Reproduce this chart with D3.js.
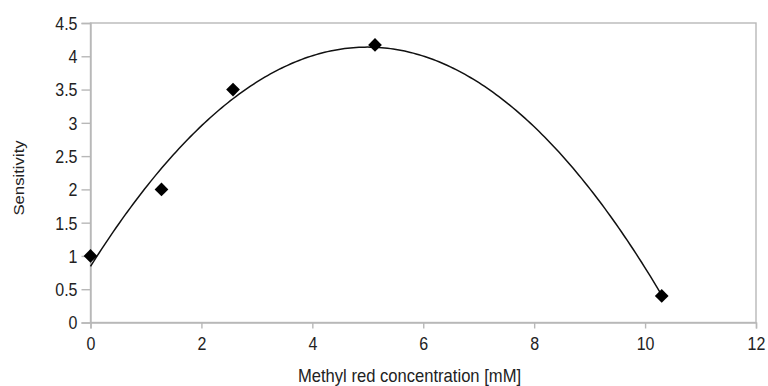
<!DOCTYPE html>
<html><head><meta charset="utf-8">
<script src="https://cdn.jsdelivr.net/npm/d3@7"></script>
<style>body{margin:0;background:#fff}svg{display:block}text{font-family:"Liberation Sans",Arial,sans-serif;fill:#222}</style>
</head><body><svg id="c" width="768" height="386"></svg>
<script>
const concentration = [0, 1.28, 2.57, 5.13, 10.3];
const sensitivity = [1, 2, 3.5, 4.17, 0.4];
const xTicks = [0, 2, 4, 6, 8, 10, 12];
const yTicks = [0, 0.5, 1, 1.5, 2, 2.5, 3, 3.5, 4, 4.5];

const svg = d3.select("#c");
const W = 768, H = 386;
const m = {l: 90.5, r: 12, t: 23, b: 63.5};
const x = d3.scaleLinear().domain([0, 12]).range([m.l, W - m.r]);
const y = d3.scaleLinear().domain([0, 4.5]).range([H - m.b, m.t]);
const grey = "#b8b8b8";
const SY = 1.1; // vertical stretch of the text

// frame
svg.append("rect").attr("x", x(0)).attr("y", y(4.5)).attr("width", x(12) - x(0)).attr("height", y(0) - y(4.5))
  .attr("fill", "none").attr("stroke", grey).attr("stroke-width", 1.4);

const ya = svg.append("g").attr("transform", `translate(${x(0)},0)`)
  .call(d3.axisLeft(y).tickValues(yTicks).tickFormat(d => String(d)).tickSize(9));
const xa = svg.append("g").attr("transform", `translate(0,${y(0)})`)
  .call(d3.axisBottom(x).tickValues(xTicks).tickFormat(d => String(d)).tickSize(6));
[ya, xa].forEach(a => {
  a.select(".domain").attr("stroke", grey).attr("stroke-width", 1.4);
  a.selectAll(".tick line").attr("stroke", grey).attr("stroke-width", 1.4);
  a.selectAll(".tick text").attr("font-size", 16).attr("fill", "#222")
    .attr("font-family", "Liberation Sans, Arial, sans-serif");
});
ya.selectAll(".tick text").attr("x", -13).attr("dy", "0.36em").attr("transform", `scale(1,${SY})`);
xa.selectAll(".tick text").attr("y", 27.5 / SY).attr("dy", 0).attr("transform", `scale(1,${SY})`);

// quadratic least squares trendline from data
function polyfit2(xs, ys) {
  const n = xs.length;
  let S = [0,0,0,0,0], T = [0,0,0];
  for (let i = 0; i < n; i++) {
    for (let k = 0; k < 5; k++) S[k] += Math.pow(xs[i], k);
    for (let k = 0; k < 3; k++) T[k] += ys[i] * Math.pow(xs[i], k);
  }
  const A = [[S[0],S[1],S[2],T[0]],[S[1],S[2],S[3],T[1]],[S[2],S[3],S[4],T[2]]];
  for (let i = 0; i < 3; i++) {
    for (let j = i + 1; j < 3; j++) {
      const f = A[j][i] / A[i][i];
      for (let k = i; k < 4; k++) A[j][k] -= f * A[i][k];
    }
  }
  const c = [0,0,0];
  for (let i = 2; i >= 0; i--) {
    let s = A[i][3];
    for (let k = i + 1; k < 3; k++) s -= A[i][k] * c[k];
    c[i] = s / A[i][i];
  }
  return c;
}
const coef = polyfit2(concentration, sensitivity);
const xmin = d3.min(concentration), xmax = d3.max(concentration);
const curve = d3.range(0, 201).map(i => {
  const xv = xmin + (xmax - xmin) * i / 200;
  return [xv, coef[0] + coef[1] * xv + coef[2] * xv * xv];
});
svg.append("path").datum(curve)
  .attr("d", d3.line().x(d => x(d[0])).y(d => y(d[1])))
  .attr("fill", "none").attr("stroke", "#111").attr("stroke-width", 1.5);

// markers
svg.selectAll(".pt").data(concentration.map((c, i) => [c, sensitivity[i]])).join("path")
  .attr("d", d3.symbol(d3.symbolDiamond2, 120)())
  .attr("transform", d => `translate(${x(d[0])},${y(d[1])})`)
  .attr("fill", "#000");

svg.append("text").attr("transform", `translate(409.5,382) scale(1,1.08)`).attr("text-anchor", "middle")
  .attr("font-size", 16.6).text("Methyl red concentration [mM]");
svg.append("text").attr("transform", `translate(24,178) scale(1,1.17) rotate(-90)`).attr("text-anchor", "middle")
  .attr("font-size", 14.3).text("Sensitivity");
</script></body></html>
